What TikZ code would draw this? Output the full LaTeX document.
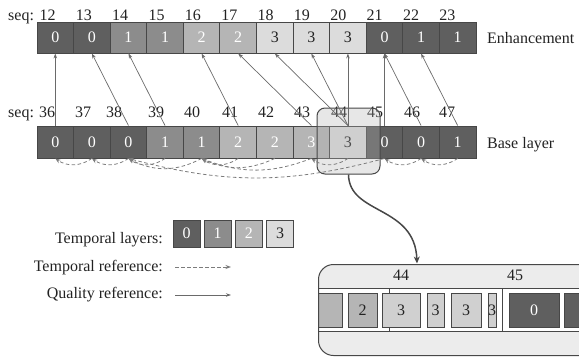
\documentclass[tikz,border=0pt]{standalone}
\usepackage{fontspec}
\setmainfont{Liberation Serif}
\usetikzlibrary{arrows.meta}
\definecolor{cz}{HTML}{5F5F5F}
\definecolor{co}{HTML}{8C8C8C}
\definecolor{ct}{HTML}{B5B5B5}
\definecolor{ch}{HTML}{DCDCDC}
\definecolor{ci}{HTML}{D0D0D0}
\definecolor{cbd}{HTML}{474747}
\definecolor{cq}{HTML}{6A6A6A}
\definecolor{ctd}{HTML}{7C7C7C}
\definecolor{cins}{HTML}{ECECEC}
\definecolor{cov}{HTML}{B1B1B1}
\definecolor{ctxt}{HTML}{222222}
\begin{document}
\begin{tikzpicture}[x=1pt,y=-1pt,
 every node/.style={font=\fontsize{16}{19}\selectfont},
 fr/.style={draw=cbd, line width=0.9pt, minimum width=36.6pt, minimum height=31pt, inner sep=0pt},
 Lz/.style={fr, fill=cz, text=white},
 Lo/.style={fr, fill=co, text=white},
 Lt/.style={fr, fill=ct, text=white},
 Lh/.style={fr, fill=ch, text=ctxt},
 ibox/.style={draw=cbd, line width=0.8pt, minimum height=34pt, inner sep=0pt, text=ctxt},
 lbl/.style={inner sep=0pt, anchor=base, text=ctxt},
 qa/.style={draw=cq, line width=0.7pt, -{Stealth[length=5pt,width=3.5pt]}},
 ta/.style={draw=ctd, line width=0.8pt, dash pattern=on 3.5pt off 2.5pt, -{Stealth[length=5.5pt,width=4pt]}},
]
\useasboundingbox (0,0) rectangle (579,357);
\clip (0,0) rectangle (579,357);

% enhancement row
\foreach \k/\s/\n in {12/Lz/0,13/Lz/0,14/Lo/1,15/Lo/1,16/Lt/2,17/Lt/2,18/Lh/3,19/Lh/3,20/Lh/3,21/Lz/0,22/Lz/1,23/Lz/1}
  \node[\s] (e\k) at ({37+36.58*(\k-11.5)},37.5) {\n};
% base row
\foreach \k/\s/\n in {36/Lz/0,37/Lz/0,38/Lz/0,39/Lo/1,40/Lo/1,41/Lt/2,42/Lt/2,43/Lt/3,44/Lh/3,45/Lz/0,46/Lz/0,47/Lz/1}
  \node[\s, minimum height=32pt] (b\k) at ({37+36.58*(\k-35.5)},142) {\n};

% seq labels
\node[lbl, anchor=base west] (seqa) at (8,20.5) {seq:};
\foreach \k in {12,...,23}
  \node[lbl] (s\k) at ({47.5+36.35*(\k-12)},20.5) {\k};
\node[lbl, anchor=base west] (seqb) at (8,117.5) {seq:};
\foreach \k/\x in {36/47,37/83,38/114,39/156,40/192,41/230,42/266,43/302,44/339,45/375,46/412,47/447}
  \node[lbl] (s\k) at (\x,117.5) {\k};

\node[lbl, anchor=base west] (enh) at (487,43) {Enhancement};
\node[lbl, anchor=base west] (bas) at (487,148) {Base layer};

% highlight
\node[draw=cbd, line width=1pt, fill=cov, fill opacity=0.3, rounded corners=8pt,
      minimum width=63pt, minimum height=66pt, inner sep=0pt] (zoom) at (348.5,141) {};

% quality references
\foreach \a/\b in {36/12,38/13,39/14,41/16,43/17,44/18,44/19,44/20,45/21,46/21,47/22}
  \draw[qa] (b\a.north) -- (e\b.south);

% temporal references
\foreach \a/\b/\g in {37/36/35,38/37/35,39/38/35,40/38/28,45/38/15,41/40/35,42/40/25,43/40/21,44/43/35,46/45/35,47/46/35}
  \draw[ta] (b\a.south) to[bend left=\g] (b\b.south);

% legend
\node[lbl, anchor=base east] (tlay) at (163,243) {Temporal layers:};
\foreach \k/\s in {0/Lz,1/Lo,2/Lt,3/Lh}
  \node[\s, minimum width=27pt, minimum height=27pt] (g\k) at ({186.5+31.2*\k},233.5) {\k};
\node[lbl, anchor=base east] (tref) at (163,271) {Temporal reference:};
\coordinate (tr1) at (175,267);
\coordinate (tr2) at (231,267);
\draw[ta] (tr1) -- (tr2);
\node[lbl, anchor=base east] (qref) at (163,298.5) {Quality reference:};
\coordinate (qr1) at (175,295);
\coordinate (qr2) at (231,295);
\draw[qa] (qr1) -- (qr2);

% inset
\path[fill=cins, rounded corners=15pt] (318,264) rectangle (650,355);
\begin{scope}
  \clip[rounded corners=15pt] (318,264) rectangle (650,355);
  \fill[white] (310,288) rectangle (650,331);
  \draw[cbd, line width=0.8pt] (310,288) -- (650,288) (310,331) -- (650,331)
       (389,288) -- (389,331) (502,288) -- (502,331);
  \node[ibox, fill=ct, minimum width=42pt] (n1) at (321,310) {};
  \node[ibox, fill=ct, minimum width=29pt] (n2) at (362.5,310) {2};
  \node[ibox, fill=ci, minimum width=38pt] (n3) at (401,310) {3};
  \node[ibox, fill=ci, minimum width=17pt] (n4) at (435.5,310) {3};
  \node[ibox, fill=ci, minimum width=30pt] (n5) at (466,310) {3};
  \node[ibox, fill=ci, minimum width=8pt] (n6) at (492,310) {3};
  \node[ibox, fill=cz, text=white, minimum width=50pt] (n7) at (534,310) {0};
  \node[ibox, fill=cz, minimum width=56pt] (n8) at (592,310) {};
\end{scope}
\node[draw=cbd, line width=1pt, rounded corners=15pt, minimum width=332pt, minimum height=91pt,
      inner sep=0pt, anchor=north west] (inset) at (318,264) {};
\node[lbl] (i44) at (401,280) {44};
\node[lbl] (i45) at (515,280) {45};

\coordinate (ztop) at (417,263.5);
\draw[draw=cbd, line width=1.5pt, -{Stealth[length=7pt,width=6pt]}]
  (zoom.south) .. controls (349,215) and (415,205) .. (ztop);
\end{tikzpicture}
\end{document}
